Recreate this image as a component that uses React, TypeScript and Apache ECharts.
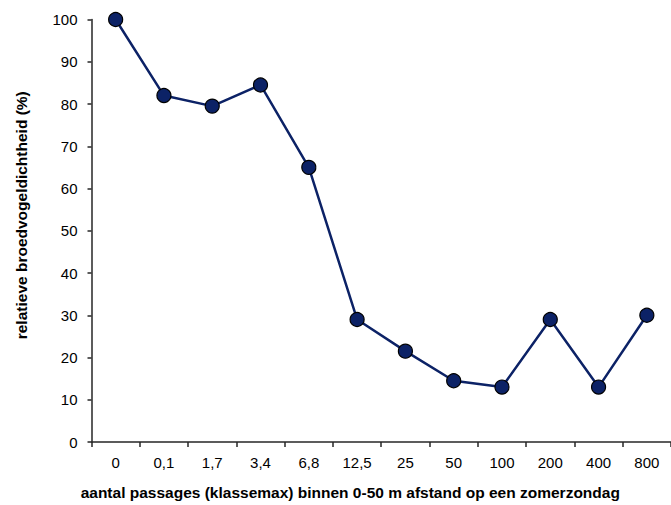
import React, { useEffect, useRef } from "react";
import * as echarts from "echarts";

const categories = ["0", "0,1", "1,7", "3,4", "6,8", "12,5", "25", "50", "100", "200", "400", "800"];
const values = [100, 82, 79.5, 84.5, 65, 29, 21.5, 14.5, 13, 29, 13, 30];
const yTitle = "relatieve broedvogeldichtheid (%)";
const xTitle = "aantal passages (klassemax) binnen 0-50 m afstand op een zomerzondag";

export default function App() {
  const ref = useRef<HTMLDivElement>(null);
  useEffect(() => {
    document.body.style.margin = "0";
    const chart = echarts.init(ref.current!, null, { renderer: "svg" });
    chart.setOption({
      animation: false,
      backgroundColor: "#ffffff",
      grid: { left: 91.5, top: 19.5, bottom: 60, right: -4, containLabel: false },
      xAxis: {
        type: "category",
        data: categories,
        boundaryGap: true,
        name: xTitle,
        nameLocation: "middle",
        nameGap: 42,
        nameTextStyle: {
          fontFamily: "Liberation Sans",
          fontWeight: "bold",
          fontSize: 15.5,
          color: "#000",
          padding: [0, 62, 0, 0],
        },
        axisLine: { lineStyle: { color: "#262626", width: 1.5 } },
        axisTick: { show: true, alignWithLabel: false, length: 5, lineStyle: { color: "#262626", width: 1.5 } },
        axisLabel: { fontFamily: "Liberation Sans", fontSize: 15, color: "#000", margin: 13, interval: 0 },
        splitLine: { show: false },
      },
      yAxis: {
        type: "value",
        min: 0,
        max: 100,
        interval: 10,
        name: yTitle,
        nameLocation: "middle",
        nameGap: 62,
        nameTextStyle: {
          fontFamily: "Liberation Sans",
          fontWeight: "bold",
          fontSize: 15.5,
          color: "#000",
          padding: [0, 0, 0, 31],
        },
        axisLine: { show: true, lineStyle: { color: "#262626", width: 1.5 } },
        axisTick: { show: true, length: 4, lineStyle: { color: "#262626", width: 1.5 } },
        axisLabel: { fontFamily: "Liberation Sans", fontSize: 15, color: "#000", margin: 14 },
        splitLine: { show: false },
      },
      series: [
        {
          type: "line",
          data: values,
          symbol: "circle",
          symbolSize: 14,
          lineStyle: { color: "#0c2266", width: 2.5 },
          itemStyle: { color: "#0c2266", borderColor: "#000", borderWidth: 1.2 },
        },
      ],
    });
    return () => chart.dispose();
  }, []);
  return <div ref={ref} style={{ width: 671, height: 505 }} />;
}
